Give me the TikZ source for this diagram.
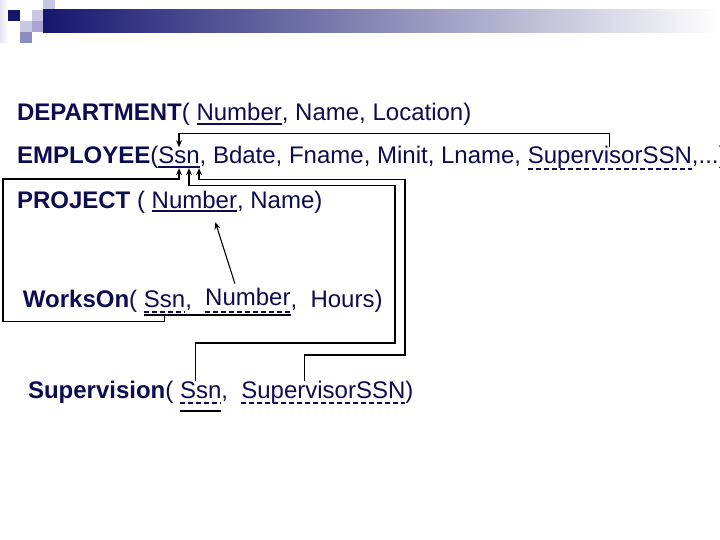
\documentclass[tikz,border=0pt]{standalone}
\usepackage{fontspec}
\setmainfont{Liberation Sans}
\usetikzlibrary{arrows.meta}
\definecolor{tc}{RGB}{12,12,80}
\definecolor{navy}{RGB}{22,22,112}
\definecolor{lav1}{RGB}{228,228,242}
\definecolor{lav2}{RGB}{200,200,228}
\definecolor{lav3}{RGB}{165,165,208}
\definecolor{lav4}{RGB}{140,140,192}
\begin{document}
\begin{tikzpicture}[x=1pt,y=-1pt,
  txt/.style={inner sep=0pt, outer sep=0pt, anchor=base west, text=tc, font=\fontsize{24}{28}\selectfont},
  bold/.style={txt, font=\fontsize{24}{28}\selectfont\bfseries},
  conn/.style={draw=black, line width=1.1pt},
  arr/.style={conn, -{Stealth[length=7pt,width=6pt]}},
  pk/.style={draw=tc, line width=1.2pt},
  fk/.style={draw=tc, line width=2pt, dash pattern=on 5pt off 3pt},
  pkb/.style={draw=black, line width=2pt}]
\useasboundingbox (0,0) rectangle (720,540);
\fill[white] (0,0) rectangle (720,540);
% header decoration
\shade[left color=lav1, right color=white, shading angle=90] (0,0) rectangle (8,43);
\fill[lav2] (43,0) rectangle (55,10);
\fill[navy] (8,10) rectangle (20,21);
\fill[lav2] (32,10) rectangle (43,21);
\fill[lav3] (43,10) rectangle (55,21);
\fill[lav2] (20,21) rectangle (32,32);
\fill[lav3] (32,21) rectangle (43,32);
\fill[lav4] (20,32) rectangle (32,43);
\shade[left color=navy, right color=white] (43,10) rectangle (720,33);

% DEPARTMENT
\node[bold] (dep) at (17,121) {DEPARTMENT};
\node[txt] (dep1) at (dep.base east) {(};
\node[txt] (depnum) at ([xshift=6.67pt]dep1.base east) {Number};
\node[txt] (dep2) at (depnum.base east) {, Name, Location)};
% EMPLOYEE
\node[bold] (emp) at (17,164) {EMPLOYEE};
\node[txt] (emp1) at (emp.base east) {(};
\node[txt] (empssn) at (emp1.base east) {Ssn};
\node[txt] (emp2) at (empssn.base east) {, Bdate, Fname, Minit, Lname,};
\node[txt] (empsup) at ([xshift=6.67pt]emp2.base east) {SupervisorSSN};
\node[txt] (emp3) at (empsup.base east) {,...)};
% PROJECT
\node[bold] (proj) at (17,208) {PROJECT};
\node[txt] (proj1) at ([xshift=6.67pt]proj.base east) {(};
\node[txt] (projnum) at ([xshift=6.67pt]proj1.base east) {Number};
\node[txt] (proj2) at (projnum.base east) {, Name)};
% WorksOn
\node[bold] (wo) at (23,307) {WorksOn};
\node[txt] (wo1) at (wo.base east) {(};
\node[txt] (wossn) at ([xshift=6.67pt]wo1.base east) {Ssn};
\node[txt] (wo2) at (wossn.base east) {,};
\node[txt] (wonum) at ([xshift=13.3pt,yshift=2pt]wo2.base east) {Number};
\node[txt] (wo3) at ([yshift=-2pt]wonum.base east) {,};
\node[txt] (wo4) at ([xshift=13.3pt]wo3.base east) {Hours)};
% Supervision
\node[bold] (sv) at (28,398) {Supervision};
\node[txt] (sv1) at (sv.base east) {(};
\node[txt] (svssn) at ([xshift=6.67pt]sv1.base east) {Ssn};
\node[txt] (sv2) at (svssn.base east) {,};
\node[txt] (svsup) at ([xshift=13.3pt]sv2.base east) {SupervisorSSN};
\node[txt] (sv3) at (svsup.base east) {)};

% underlines
\draw[pk] ([yshift=-3pt]depnum.base west) -- ([yshift=-3pt]depnum.base east);
\draw[pk] ([yshift=-3pt]empssn.base west) -- ([yshift=-3pt]empssn.base east);
\draw[fk] ([yshift=-5pt]empsup.base west) -- ([yshift=-5pt]empsup.base east);
\draw[pk] ([yshift=-3pt]projnum.base west) -- ([yshift=-3pt]projnum.base east);
\draw[fk] ([yshift=-5pt]wossn.base west) -- ([yshift=-5pt]wossn.base east);
\draw[fk] ([yshift=-7pt]wonum.base west) -- ([yshift=-7pt]wonum.base east);
\draw[pkb] ([yshift=-8pt]wossn.base west) -- ([yshift=-10pt]wonum.base east);
\draw[fk] ([yshift=-5pt]svssn.base west) -- ([yshift=-5pt]svssn.base east);
\draw[pkb] ([yshift=-13pt]svssn.base west) -- ([yshift=-13pt]svssn.base east);
\draw[fk] ([yshift=-5pt]svsup.base west) -- ([yshift=-5pt]svsup.base east);

% connectors
\draw[arr] (empsup.north) -- ++(0,-13) -| (empssn.north);
\draw[arr] ([yshift=-9pt]wossn.south) -- ++(0,5) -| (3,179) -| ([yshift=-4pt]empssn.south);
\draw[arr] ([xshift=-5pt]svssn.north) |- (395,343) |- ([xshift=10pt,yshift=-21pt]empssn.south) -- ([xshift=10pt,yshift=-4pt]empssn.south);
\draw[arr] ([xshift=-19pt]svsup.north) |- (405,355) |- ([xshift=20pt,yshift=-15pt]empssn.south) -- ([xshift=20pt,yshift=-4pt]empssn.south);
\draw[arr] ([xshift=-13pt,yshift=4pt]wonum.north) -- ([xshift=21pt,yshift=-14pt]projnum.south);
\end{tikzpicture}
\end{document}
